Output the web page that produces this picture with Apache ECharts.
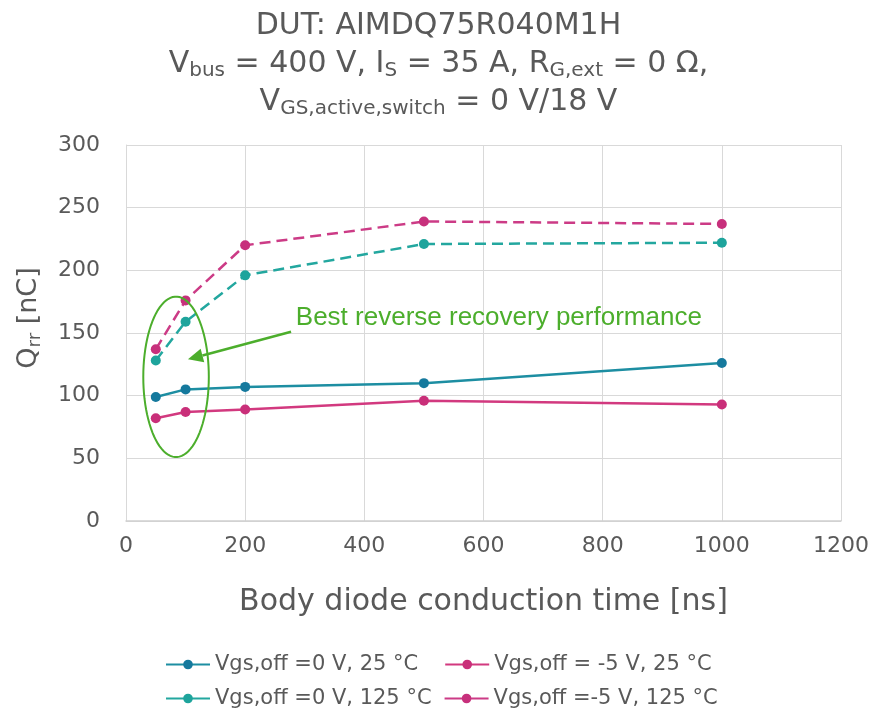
<!DOCTYPE html>
<html>
<head>
<meta charset="utf-8">
<script src="https://cdn.jsdelivr.net/npm/echarts@6/dist/echarts.min.js"></script>
<style>
  html, body { margin: 0; padding: 0; background: #fff; }
  #chart { width: 877px; height: 713px; }
</style>
</head>
<body>
<div id="chart"></div>
<script>
// conduction time [ns]
var times = [50, 100, 200, 500, 1000];
var xTicks = [0, 200, 400, 600, 800, 1000, 1200];
var yTicks = [0, 50, 100, 150, 200, 250, 300];

// Qrr [nC]
var qrr0V25 = [99, 105, 107, 110, 126];
var qrrM5V25 = [82, 87, 89, 96, 93];
var qrr0V125 = [128, 159, 196, 221, 222];
var qrrM5V125 = [137, 176, 220, 239, 237];

var names = [
  "Vgs,off =0 V, 25 °C",
  "Vgs,off =0 V, 125 °C",
  "Vgs,off = -5 V, 25 °C",
  "Vgs,off =-5 V, 125 °C"
];

var gray = "#595959";
var font = "DejaVu Sans";

function pts(vals) {
  return times.map(function (t, i) { return [t, vals[i]]; });
}

function makeSeries(name, vals, lineColor, dotColor, dashed) {
  return {
    name: name,
    type: "line",
    data: pts(vals),
    symbol: "circle",
    symbolSize: 10,
    lineStyle: { color: lineColor, width: 2.5, type: dashed ? [11, 6] : "solid" },
    itemStyle: { color: dotColor },
    z: 3
  };
}

var myChart = echarts.init(document.getElementById("chart"));

var legendText = { color: gray, fontSize: 21, fontFamily: font };

myChart.setOption({
  animation: false,
  title: {
    left: "center",
    top: 2,
    text: "DUT: AIMDQ75R040M1H\nV{sub|bus} = 400 V, I{sub|S} = 35 A, R{sub|G,ext} = 0 Ω,\nV{sub|GS,active,switch} = 0 V/18 V",
    textStyle: {
      color: gray,
      fontSize: 30,
      fontWeight: "normal",
      fontFamily: font,
      lineHeight: 38,
      rich: {
        sub: { fontSize: 20, fontFamily: font, color: gray, padding: [13, 0, 0, 0], lineHeight: 38 }
      }
    }
  },
  grid: { left: 126, right: 36, top: 145, bottom: 192, containLabel: false },
  xAxis: {
    type: "value",
    min: 0,
    max: 1200,
    interval: 200,
    name: "Body diode conduction time [ns]",
    nameLocation: "middle",
    nameGap: 66,
    nameTextStyle: { color: gray, fontSize: 30, fontFamily: font },
    axisLine: { show: true, lineStyle: { color: "#d0d0d0", width: 1.5 } },
    axisTick: { show: false },
    axisLabel: {
      color: gray, fontSize: 22, fontFamily: font, margin: 14,
      formatter: function (v) { return String(v); }
    },
    splitLine: { show: true, lineStyle: { color: "#d9d9d9" } }
  },
  yAxis: {
    type: "value",
    min: 0,
    max: 300,
    interval: 50,
    name: "Q{sub|rr} [nC]",
    nameLocation: "middle",
    nameGap: 82,
    nameRotate: 90,
    nameTextStyle: {
      color: gray, fontSize: 27, fontFamily: font, padding: [0, 0, 0, 30],
      rich: { sub: { fontSize: 18, fontFamily: font, color: gray, padding: [12, 0, 0, 0] } }
    },
    axisLine: { show: true, lineStyle: { color: "#d9d9d9" } },
    axisTick: { show: false },
    axisLabel: { color: gray, fontSize: 22, fontFamily: font, margin: 26 },
    splitLine: { show: true, lineStyle: { color: "#d9d9d9" } }
  },
  legend: [
    {
      data: [names[0], names[2]],
      left: 160,
      top: 649,
      itemWidth: 44,
      itemHeight: 12,
      itemGap: 26,
      lineStyle: { type: "solid" },
      textStyle: legendText
    },
    {
      data: [names[1], names[3]],
      left: 160,
      top: 683,
      itemWidth: 44,
      itemHeight: 12,
      itemGap: 12,
      lineStyle: { type: "solid" },
      textStyle: legendText
    }
  ],
  series: [
    makeSeries(names[0], qrr0V25, "#1d8ea2", "#15799d", false),
    makeSeries(names[1], qrr0V125, "#23a79f", "#1ea49c", true),
    makeSeries(names[2], qrrM5V25, "#d2397f", "#c92f79", false),
    makeSeries(names[3], qrrM5V125, "#cc3b86", "#c7307c", true)
  ]
});

// annotation: ellipse around short conduction times, arrow and label
var green = "#4cae2c";
var c = myChart.convertToPixel({ gridIndex: 0 }, [84, 115]);
var topPt = myChart.convertToPixel({ gridIndex: 0 }, [84, 179]);
var side = myChart.convertToPixel({ gridIndex: 0 }, [139, 115]);
var labelPos = myChart.convertToPixel({ gridIndex: 0 }, [285, 162]);
var a0 = myChart.convertToPixel({ gridIndex: 0 }, [277, 151]);
var a1 = myChart.convertToPixel({ gridIndex: 0 }, [104, 129]);

var rx = side[0] - c[0], ry = c[1] - topPt[1];
var ring = [];
for (var k = 0; k < 90; k++) {
  var t = k / 90 * Math.PI * 2;
  ring.push([c[0] + rx * Math.cos(t), c[1] + ry * Math.sin(t)]);
}

var dx = a1[0] - a0[0], dy = a1[1] - a0[1];
var len = Math.sqrt(dx * dx + dy * dy);
var ux = dx / len, uy = dy / len;
var headL = 15, headW = 7;
var base = [a1[0] - ux * headL, a1[1] - uy * headL];
var head = [
  [a1[0], a1[1]],
  [base[0] - uy * headW, base[1] + ux * headW],
  [base[0] + uy * headW, base[1] - ux * headW]
];

myChart.setOption({
  graphic: [
    {
      type: "polygon",
      shape: { points: ring },
      style: { fill: null, stroke: green, lineWidth: 2 },
      z: 10
    },
    {
      type: "line",
      shape: { x1: a0[0], y1: a0[1], x2: base[0], y2: base[1] },
      style: { stroke: green, lineWidth: 2.5 },
      z: 10
    },
    {
      type: "polygon",
      shape: { points: head },
      style: { fill: green },
      z: 10
    },
    {
      type: "text",
      x: labelPos[0],
      y: labelPos[1],
      style: {
        text: "Best reverse recovery performance",
        fill: green,
        font: "26px 'Liberation Sans'",
        verticalAlign: "middle"
      },
      z: 10
    }
  ]
});
</script>
</body>
</html>
